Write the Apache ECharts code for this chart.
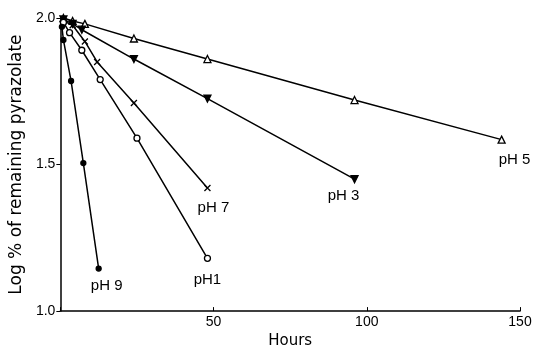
<!DOCTYPE html>
<html>
<head>
<meta charset="utf-8">
<script src="https://cdn.jsdelivr.net/npm/echarts@6/dist/echarts.min.js"></script>
<style>
  html, body { margin: 0; padding: 0; background: #fff; }
  #chart { width: 538px; height: 354px; }
</style>
</head>
<body>
<div id="chart"></div>
<script>
// hours / log % remaining
const ph5 = [[1, 2.0], [4, 1.99], [8, 1.98], [24, 1.93], [48, 1.86], [96, 1.72], [144, 1.585]];
const ph3 = [[1, 1.995], [4, 1.98], [7, 1.96], [24, 1.86], [48, 1.725], [96, 1.45]];
const ph7 = [[1, 1.99], [4, 1.975], [8, 1.92], [12, 1.85], [24, 1.71], [48, 1.42]];
const ph1 = [[1, 1.985], [3, 1.95], [7, 1.89], [13, 1.79], [25, 1.59], [48, 1.18]];
const ph9 = [[0.5, 1.97], [1, 1.925], [3.5, 1.785], [7.5, 1.505], [12.5, 1.145]];

const xTicks = [50, 100, 150];
const yTicks = [1.0, 1.5, 2.0];

const FONT = 'Liberation Sans, Arial, sans-serif';
const TITLE_FONT = 'DejaVu Sans, sans-serif';
const crossPath = 'path://M0,0L10,10M10,0L0,10';

// last point gets the pH label
function withEndLabel(data, text, offset) {
  return data.map((d, i) => {
    if (i !== data.length - 1) return d;
    return {
      value: d,
      label: {
        show: true, formatter: text, position: 'inside', offset: offset,
        color: '#000', fontSize: 15, fontFamily: FONT,
      },
    };
  });
}

function lineSeries(name, data, symbol, filled, rotate, size, label, offset) {
  return {
    name: name,
    type: 'line',
    data: withEndLabel(data, label, offset),
    symbol: symbol,
    symbolSize: size,
    symbolRotate: rotate || 0,
    showSymbol: true,
    lineStyle: { color: '#000', width: 1.5 },
    itemStyle: { color: filled ? '#000' : '#fff', borderColor: '#000', borderWidth: 1.3 },
    emphasis: { disabled: true },
    silent: true,
    z: 3,
  };
}

const chart = echarts.init(document.getElementById('chart'));
chart.setOption({
  animation: false,
  backgroundColor: '#fff',
  grid: { left: 59, right: 18, top: 18, bottom: 31 },
  xAxis: {
    type: 'value', min: 0, max: 150, interval: 50,
    name: 'Hours', nameLocation: 'middle', nameGap: 19,
    nameTextStyle: { color: '#000', fontSize: 15, fontFamily: TITLE_FONT },
    axisLine: { lineStyle: { color: '#000', width: 1.5 } },
    axisTick: { inside: true, length: 4, lineStyle: { color: '#000' } },
    axisLabel: {
      color: '#000', fontSize: 14, fontFamily: FONT, margin: 4,
      formatter: (v) => (xTicks.includes(v) ? String(v) : ''),
    },
    splitLine: { show: false },
  },
  yAxis: {
    type: 'value', min: 1.0, max: 2.0, interval: 0.5,
    name: 'Log % of remaining pyrazolate', nameLocation: 'middle', nameGap: 35,
    nameTextStyle: { color: '#000', fontSize: 17, fontFamily: TITLE_FONT },
    axisLine: { show: true, lineStyle: { color: '#000', width: 1.5 } },
    axisTick: { show: true, length: 4, lineStyle: { color: '#000' } },
    axisLabel: {
      color: '#000', fontSize: 14, fontFamily: FONT, margin: 5,
      formatter: (v) => (yTicks.some((t) => Math.abs(t - v) < 1e-9) ? v.toFixed(1) : ''),
    },
    splitLine: { show: false },
  },
  series: [
    lineSeries('pH 5', ph5, 'triangle', false, 0, 7, 'pH 5', [13, 20]),
    lineSeries('pH 3', ph3, 'triangle', true, 180, 7, 'pH 3', [-11, 17]),
    lineSeries('pH 7', ph7, crossPath, false, 0, 6, 'pH 7', [6, 20]),
    lineSeries('pH1', ph1, 'circle', false, 0, 6, 'pH1', [0, 22]),
    lineSeries('pH 9', ph9, 'circle', true, 0, 5, 'pH 9', [8, 17]),
  ],
});
</script>
</body>
</html>
